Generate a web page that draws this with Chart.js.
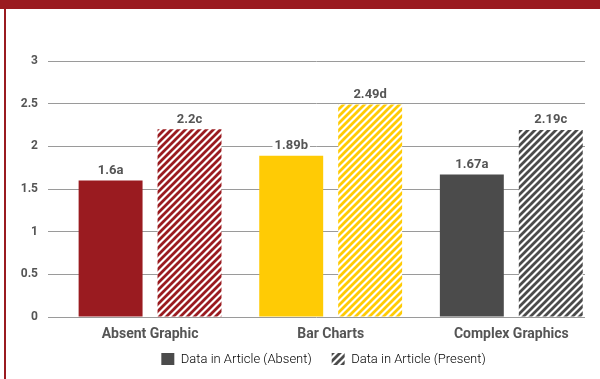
<!DOCTYPE html>
<html>
<head>
<meta charset="utf-8">
<script src="https://cdn.jsdelivr.net/npm/chart.js@4/dist/chart.umd.min.js"></script>
<style>
  html, body { margin: 0; padding: 0; background: #fff; overflow: hidden; }
  #wrap { position: relative; width: 600px; height: 379px; }
  #band { position: absolute; left: 0; top: 0; width: 600px; height: 9px; background: #9a1b20; }
  #rule { position: absolute; left: 4px; top: 9px; width: 2px; height: 370px; background: #9a1b20; }
  canvas { position: absolute; left: 0; top: 0; }
</style>
</head>
<body>
<div id="wrap">
  <canvas id="chart" width="600" height="379"></canvas>
  <div id="band"></div>
  <div id="rule"></div>
</div>
<script>
// Categories and mean scores, with significance letters
const categories = ['Absent Graphic', 'Bar Charts', 'Complex Graphics'];
const absentValues = [1.6, 1.89, 1.67];
const presentValues = [2.2, 2.49, 2.19];
const absentLetters = ['a', 'b', 'a'];
const presentLetters = ['c', 'd', 'c'];
const seriesNames = ['Data in Article (Absent)', 'Data in Article (Present)'];
const groupColors = ['#9a1b20', '#ffcb05', '#4b4b4b'];

const FONT = 'Roboto, "Liberation Sans", sans-serif';
const TEXT = '#555555';

// Diagonal stripe fill on white
function hatch(color) {
  const s = 7;
  const c = document.createElement('canvas');
  c.width = s; c.height = s;
  const g = c.getContext('2d');
  g.fillStyle = '#ffffff';
  g.fillRect(0, 0, s, s);
  g.strokeStyle = color;
  g.lineWidth = 2.8;
  g.beginPath();
  for (const k of [-1, 0, 1]) {
    g.moveTo(k * s - 1, s + 1);
    g.lineTo(s + k * s + 1, -1);
  }
  g.stroke();
  return g.createPattern(c, 'repeat');
}

const ctx = document.getElementById('chart').getContext('2d');
const hatchFills = groupColors.map(hatch);
const xs = categories.map((_, i) => i);

// Value labels above each bar, on a white chip
const valueLabels = {
  id: 'valueLabels',
  afterDatasetsDraw(chart) {
    const c = chart.ctx;
    c.save();
    c.font = 'bold 13px ' + FONT;
    c.textAlign = 'center';
    c.textBaseline = 'middle';
    chart.data.datasets.forEach((ds, di) => {
      const meta = chart.getDatasetMeta(di);
      meta.data.forEach((bar, i) => {
        const txt = ds.data[i].y + ds.letters[i];
        const w = c.measureText(txt).width;
        const y = bar.y - 10;
        c.fillStyle = '#ffffff';
        c.fillRect(bar.x - w / 2 - 2, y - 7, w + 4, 14);
        c.fillStyle = TEXT;
        c.fillText(txt, bar.x, y);
      });
    });
    c.restore();
  }
};

// Place the legend row under the bar groups
const legendShift = {
  id: 'legendShift',
  afterLayout(chart) {
    const lg = chart.legend;
    lg.left += 7; lg.right += 7;
    lg.top -= 14; lg.bottom -= 14;
  }
};

new Chart(ctx, {
  type: 'bar',
  data: {
    datasets: [
      {
        label: seriesNames[0],
        data: xs.map(i => ({ x: i, y: absentValues[i] })),
        letters: absentLetters,
        backgroundColor: groupColors
      },
      {
        label: seriesNames[1],
        data: xs.map(i => ({ x: i, y: presentValues[i] })),
        letters: presentLetters,
        backgroundColor: hatchFills
      }
    ]
  },
  plugins: [valueLabels, legendShift],
  options: {
    responsive: false,
    devicePixelRatio: 1,
    animation: false,
    categoryPercentage: 0.874,
    barPercentage: 0.81,
    layout: { padding: { top: 61, right: 15, bottom: 0, left: 0 } },
    plugins: {
      tooltip: { enabled: false },
      legend: {
        position: 'bottom',
        fullSize: false,
        maxHeight: 32,
        labels: {
          boxWidth: 13,
          boxHeight: 13,
          padding: 20,
          color: '#666666',
          font: { family: FONT, size: 13, weight: '300' },
          generateLabels() {
            return seriesNames.map((t, i) => ({
              text: t,
              fillStyle: i === 0 ? '#4b4b4b' : hatch('#4b4b4b'),
              strokeStyle: 'rgba(0,0,0,0)',
              lineWidth: 0,
              datasetIndex: i
            }));
          }
        }
      }
    },
    scales: {
      x: {
        type: 'linear',
        min: -0.565,
        max: 2.408,
        offset: false,
        grid: { display: false },
        border: { display: false },
        afterBuildTicks(axis) { axis.ticks = xs.map(v => ({ value: v })); },
        afterFit(axis) { axis.height = 30; },
        ticks: {
          padding: 1,
          color: TEXT,
          font: { family: FONT, size: 14, weight: 'bold' },
          callback: v => categories[v]
        }
      },
      y: {
        min: 0,
        max: 3,
        border: { display: false },
        grid: { color: '#9a9a9a', lineWidth: 1, drawTicks: false },
        afterFit(axis) { axis.width = 48; },
        ticks: {
          stepSize: 0.5,
          padding: 10,
          color: TEXT,
          font: { family: FONT, size: 12, weight: 'bold' },
          callback: v => String(v)
        }
      }
    }
  }
});
</script>
</body>
</html>
